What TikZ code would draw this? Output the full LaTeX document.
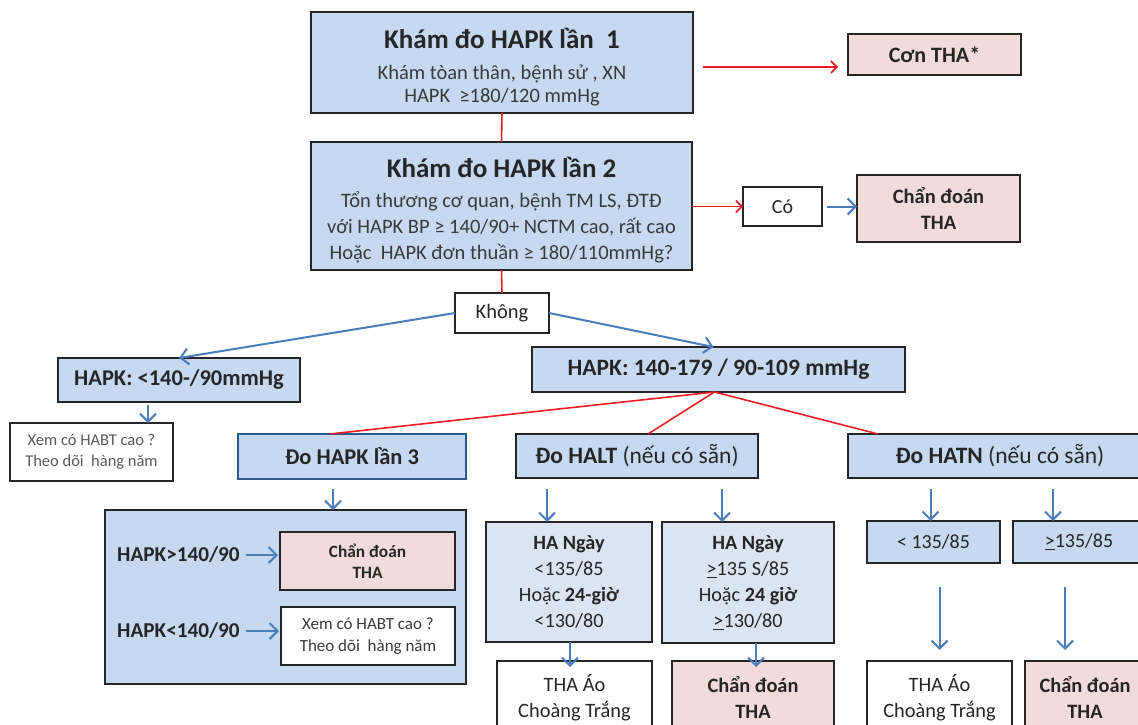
\documentclass[tikz,border=0pt]{standalone}
\usepackage{fontspec}
\setmainfont{Carlito}
\usetikzlibrary{arrows.meta}

\definecolor{boxblue}{HTML}{C6D9F0}
\definecolor{paleblue}{HTML}{DBE5F1}
\definecolor{boxpink}{HTML}{F2DCDB}
\definecolor{edge}{HTML}{262626}
\definecolor{ink}{HTML}{262626}
\definecolor{body}{HTML}{3A3A3A}
\definecolor{soft}{HTML}{595959}
\definecolor{flowblue}{HTML}{4A7EBB}
\definecolor{flowred}{HTML}{EE1C25}
\definecolor{navyedge}{HTML}{2E5A8A}

\tikzset{
  base/.style={draw=edge, line width=1.8pt, inner sep=2pt, outer sep=0pt,
               align=center, text=ink},
  bluebox/.style={base, fill=boxblue},
  palebox/.style={base, fill=paleblue},
  pinkbox/.style={base, fill=boxpink},
  whitebox/.style={base, fill=white},
  sz/.style 2 args={minimum width=#1pt, minimum height=#2pt},
  fs/.style 2 args={font=\fontsize{#1}{#2}\selectfont},
  redline/.style={draw=flowred, line width=1.6pt},
  redarr/.style={redline, -{Straight Barb[length=6pt,width=12pt]}},
  bluearr/.style={draw=flowblue, line width=2pt,
                  -{Straight Barb[length=8pt,width=16pt]}},
  plain/.style={inner sep=0pt, text=ink},
}

\begin{document}
\begin{tikzpicture}[x=1pt,y=-1pt]
\clip (0,0) rectangle (1138,725);
\fill[white] (0,0) rectangle (1138,725);

% ---- first visit
\node[bluebox, sz={382}{101}, fs={20.5}{23}] (k1) at (502,62.5)
  {{\fontsize{27}{30}\selectfont\bfseries\rule{0pt}{29pt}Khám đo HAPK lần\ \ 1}\\[8pt]
   \color{body}Khám tòan thân, bệnh sử , XN\\
   \color{body}HAPK\ \ ≥180/120 mmHg};
\node[pinkbox, sz={173}{41}, fs={22}{26}] (con) at (934.5,54.5)
  {\bfseries Cơn THA*};

% ---- second visit
\node[bluebox, sz={381}{128}, fs={20.5}{26}] (k2) at (501.5,206)
  {{\fontsize{27}{30}\selectfont\bfseries\rule{0pt}{29pt}Khám đo HAPK lần 2}\\[4pt]
   \color{body}Tổn thương cơ quan, bệnh TM LS, ĐTĐ\\
   \color{body}với HAPK BP ≥ 140/90+ NCTM cao, rất cao\\
   \color{body}Hoặc\ \ HAPK đơn thuần ≥ 180/110mmHg?};
\node[whitebox, sz={79}{39}, fs={20}{24}] (co) at (782.5,206.5) {Có};
\node[pinkbox, sz={163}{67}, fs={20.5}{26}] (cd1) at (938.5,208.5)
  {\bfseries Chẩn đoán\\ \bfseries THA};

\node[whitebox, sz={94}{40}, fs={20.5}{24}] (khong) at (502,313) {Không};

% ---- branches
\node[bluebox, sz={242}{44}, fs={22.5}{26}] (lo) at (179,380) {\bfseries HAPK: <140-/90mmHg};
\node[bluebox, sz={373}{45}, fs={23.5}{26}] (mid) at (718.5,369.5) {\bfseries HAPK: 140-179 / 90-109 mmHg};
\node[whitebox, sz={163}{58}, fs={16.5}{21}] (xem1) at (91.5,452)
  {\color{soft}Xem có HABT cao ?\\ \color{soft}Theo dõi\ \ hàng năm};

\node[bluebox, draw=navyedge, sz={228}{45}, fs={22.5}{26}] (do3) at (352,456.5) {\bfseries Đo HAPK lần 3};
\node[bluebox, sz={242}{44}, fs={23.5}{26}] (halt) at (637,456)
  {\textbf{Đo HALT} (nếu có sẵn)};
\node[bluebox, sz={304}{44}, fs={23.5}{26}] (hatn) at (1000,456)
  {\textbf{Đo HATN} (nếu có sẵn)};

% ---- third office measurement
\node[bluebox, sz={361}{174}] (outer) at (285.5,597) {};
\node[pinkbox, sz={175}{58}, fs={17.3}{21}] (cd2) at (367.5,561)
  {\bfseries Chẩn đoán\\ \bfseries THA};
\node[whitebox, sz={174}{58}, fs={17}{22}] (xem2) at (368,636)
  {\color{body}Xem có HABT cao ?\\ \color{body}Theo dõi\ \ hàng năm};
\node[plain, anchor=west, fs={21.2}{25}] (gt) at (117,555) {\bfseries HAPK>140/90};
\node[plain, anchor=west, fs={21.2}{25}] (lt) at (117,631) {\bfseries HAPK<140/90};

% ---- ambulatory measurement
\node[palebox, sz={166}{120}, fs={20.2}{26}] (ha1) at (569,582)
  {\bfseries HA Ngày\\ <135/85\\ Hoặc \textbf{24-giờ}\\ <130/80};
\node[palebox, sz={172}{121}, fs={20.2}{26}] (ha2) at (748,582.5)
  {\bfseries HA Ngày\\ \underline{>}135 S/85\\ Hoặc \textbf{24 giờ}\\ \underline{>}130/80};
\node[whitebox, sz={155}{73}, fs={20.4}{25.5}] (tha1) at (574.5,697.5)
  {THA Áo\\ Choàng Trắng};
\node[pinkbox, sz={162}{73}, fs={20.4}{25.5}] (cd3) at (753,697.5)
  {\bfseries Chẩn đoán\\ \bfseries THA};

% ---- home measurement
\node[bluebox, sz={133}{42}, fs={20}{24}] (lo2) at (933.5,542) {< 135/85};
\node[bluebox, sz={132}{42}, fs={20}{24}] (ge) at (1079,542)
  {\underline{>}135/85};
\node[whitebox, sz={145}{73}, fs={20.4}{25.5}] (tha2) at (939.5,697.5)
  {THA Áo\\ Choàng Trắng};
\node[pinkbox, sz={120}{73}, fs={20.4}{25.5}] (cd4) at (1085,697.5)
  {\bfseries Chẩn đoán\\ \bfseries THA};

% ---- connectors
\draw[redarr, shorten <=10pt, shorten >=10pt] (k1.east |- 0,67) -- (con.west |- 0,67);
\draw[redline] (k1.south) -- (k2.north);
\draw[redarr] (k2.east |- co.west) -- (co.west);
\draw[bluearr, shorten <=5pt] (co.east) -- (cd1.west |- co.east);
\draw[redline] (k2.south) -- (khong.north);
\draw[bluearr] (khong.west) -- (lo.north);
\draw[bluearr] (khong.east) -- ([xshift=-5pt]mid.north);
\draw[bluearr] ([xshift=-31pt,yshift=-3pt]lo.south) -- ([xshift=-31pt]lo.south |- xem1.north);

\draw[redline] ([xshift=-4pt]mid.south) -- ([xshift=-22pt]do3.north);
\draw[redline] ([xshift=-4pt]mid.south) -- ([xshift=11pt]halt.north);
\draw[redline] ([xshift=-4pt]mid.south) -- ([xshift=30pt]hatn.north west);

\draw[bluearr] ([xshift=-19pt,yshift=-10pt]do3.south) -- ([xshift=-19pt]do3.south |- outer.north);
\draw[bluearr, shorten <=6pt, shorten >=2pt] (gt.east) -- (gt.east -| cd2.west);
\draw[bluearr, shorten <=6pt, shorten >=2pt] (lt.east) -- (lt.east -| xem2.west);

\draw[bluearr] ([xshift=-90pt,yshift=-11pt]halt.south) -- ([xshift=-90pt]halt.south |- ha1.north);
\draw[bluearr] ([xshift=85pt,yshift=-11pt]halt.south) -- ([xshift=85pt]halt.south |- ha2.north);
\draw[bluearr] ([xshift=1pt]ha1.south) -- ([xshift=1pt,yshift=-6pt]ha1.south |- tha1.north);
\draw[bluearr] ([xshift=8pt]ha2.south) -- ([xshift=8pt,yshift=-6pt]ha2.south |- cd3.north);

\draw[bluearr] ([xshift=-3pt,yshift=-11pt]lo2.north |- hatn.south) -- ([xshift=-3pt]lo2.north);
\draw[bluearr] ([xshift=-26pt,yshift=-11pt]ge.north |- hatn.south) -- ([xshift=-26pt]ge.north);
\draw[bluearr] ([xshift=6pt,yshift=-24pt]lo2.south) -- ([xshift=6pt,yshift=11pt]lo2.south |- tha2.north);
\draw[bluearr] ([xshift=-14pt,yshift=-24pt]ge.south) -- ([xshift=-14pt,yshift=11pt]ge.south |- cd4.north);
\end{tikzpicture}
\end{document}
